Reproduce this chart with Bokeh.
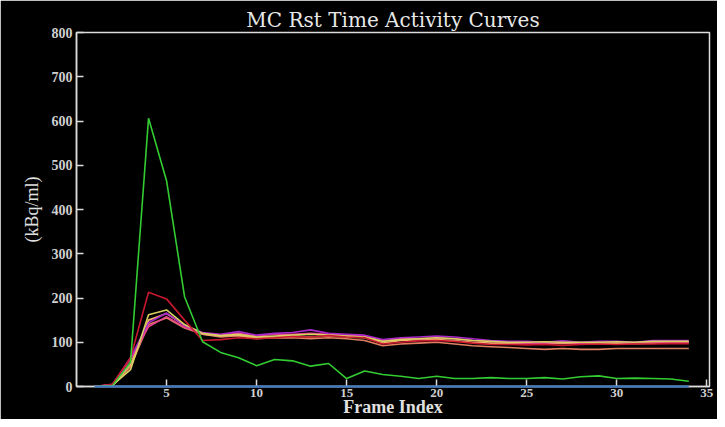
from bokeh.plotting import figure
from bokeh.models import Range1d, FixedTicker
from bokeh.embed import file_html
from bokeh.resources import INLINE

frames = list(range(1, 35))

green = [0, 2, 55, 606, 465, 203, 101, 77, 65, 47, 61, 58, 46, 52, 18, 35, 27, 23, 18, 23,
         18, 18, 20, 18, 18, 20, 17, 22, 24, 18, 19, 18, 17, 12]
red = [0, 5, 65, 213, 198, 150, 104, 106, 110, 108, 110, 113, 112, 115, 112, 110, 96, 100, 103, 104,
       102, 98, 95, 95, 94, 95, 93, 95, 96, 95, 96, 96, 97, 97]
yellow = [0, 3, 38, 162, 173, 140, 120, 115, 118, 112, 114, 116, 118, 116, 114, 112, 102, 106, 108, 110,
          108, 104, 102, 100, 100, 101, 100, 100, 100, 101, 100, 102, 102, 102]
magenta = [0, 4, 65, 144, 166, 138, 122, 118, 124, 116, 120, 122, 128, 120, 118, 116, 106, 110, 112, 114,
           112, 108, 104, 102, 102, 100, 103, 100, 102, 102, 100, 104, 104, 104]
pink = [0, 5, 62, 135, 158, 134, 120, 116, 120, 114, 118, 118, 120, 118, 116, 114, 104, 108, 108, 110,
        108, 104, 102, 100, 98, 98, 100, 98, 100, 100, 98, 100, 100, 100]
orange = [0, 3, 50, 150, 165, 138, 118, 114, 116, 110, 112, 114, 112, 114, 112, 110, 98, 104, 106, 106,
          104, 100, 98, 98, 96, 97, 98, 96, 97, 98, 97, 98, 99, 99]
salmon = [0, 2, 45, 140, 155, 132, 118, 112, 115, 108, 110, 110, 108, 110, 108, 104, 92, 96, 98, 100,
          96, 92, 90, 88, 86, 84, 86, 84, 84, 86, 86, 86, 86, 86]
blue = [0] * 34

x_ticks = [5, 10, 15, 20, 25, 30, 35]
y_ticks = [0, 100, 200, 300, 400, 500, 600, 700, 800]

series = [
    (salmon, "#e08060"),
    (orange, "#f5b070"),
    (pink, "#e84090"),
    (magenta, "#a828c8"),
    (yellow, "#d8d060"),
    (red, "#c81830"),
    (green, "#33cc33"),
]

p = figure(width=717, height=419, output_backend="svg", toolbar_location=None,
           x_range=Range1d(0, 35.15), y_range=Range1d(0, 800),
           min_border_left=76, min_border_right=8, min_border_top=32, min_border_bottom=0,
           background_fill_color="black", border_fill_color="black",
           title="MC Rst Time Activity Curves")

p.title.align = "center"
p.title.text_color = "#e8e8e8"
p.title.text_font = "DejaVu Serif"
p.title.text_font_size = "20px"
p.title.text_font_style = "normal"
p.title.offset = 0
p.title.standoff = 2

p.outline_line_color = "#dcdcdc"
p.outline_line_width = 1.5
p.grid.visible = False

for ax in (p.xaxis[0], p.yaxis[0]):
    ax.axis_line_color = "#dcdcdc"
    ax.axis_line_width = 1.5
    ax.major_tick_line_color = "#dcdcdc"
    ax.major_tick_line_width = 1.5
    ax.major_tick_in = 7
    ax.major_tick_out = 0
    ax.minor_tick_line_color = None
    ax.major_label_text_color = "#d0d0d0"
    ax.major_label_text_font = "Liberation Serif"
    ax.major_label_text_font_style = "bold"
    ax.major_label_text_font_size = "14px"
    ax.axis_label_text_color = "#e0e0e0"
    ax.axis_label_text_font = "Liberation Serif"
    ax.axis_label_text_font_style = "normal"

p.xaxis.ticker = FixedTicker(ticks=x_ticks)
p.yaxis.ticker = FixedTicker(ticks=y_ticks)
p.xaxis.major_label_standoff = 2
p.xaxis.major_label_text_font_size = "13px"
p.xaxis.axis_label = "Frame Index"
p.xaxis.axis_label_text_font_size = "18px"
p.xaxis.axis_label_text_font_style = "bold"
p.xaxis.axis_label_standoff = -3
p.yaxis.axis_label = "(kBq/ml)"
p.yaxis.axis_label_text_font_size = "18px"
p.yaxis.axis_label_standoff = 7
p.yaxis.major_label_standoff = 4

for vals, col in series:
    p.line(frames, vals, line_color=col, line_width=1.6)

p.line(frames, blue, line_color="#3a78c8", line_width=2.2, level="overlay")

open("out.html", "w").write(file_html(p, INLINE))
